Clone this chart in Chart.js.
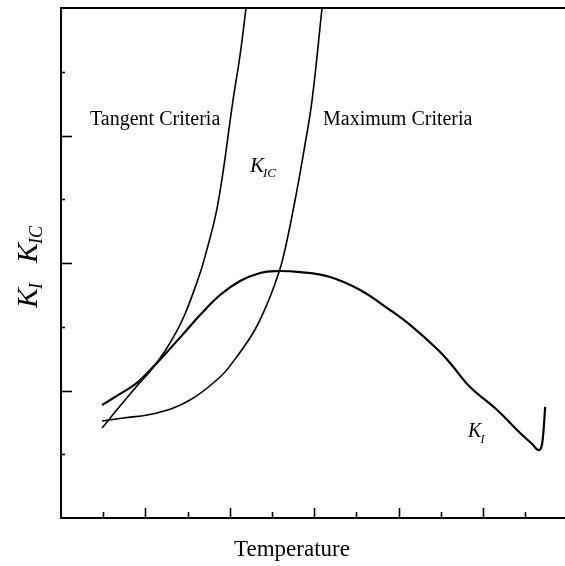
<!DOCTYPE html>
<html>
<head>
<meta charset="utf-8">
<script src="https://cdn.jsdelivr.net/npm/chart.js@4/dist/chart.umd.min.js"></script>
<style>
  html, body { margin: 0; padding: 0; background: #ffffff; }
  #c { display: block; }
</style>
</head>
<body>
<canvas id="c" width="565" height="566"></canvas>
<script>
// ---- Data ----
// K_I curve
const kiTemp   = [0.486, 0.699, 0.900, 1.078, 1.256, 1.469, 1.647, 1.884, 2.121, 2.358, 2.536, 2.832, 3.187, 3.543, 3.898, 4.135, 4.467, 4.609, 4.846, 5.166, 5.438, 5.581, 5.652, 5.687, 5.711, 5.735];
const kiValues = [0.886, 0.973, 1.059, 1.176, 1.302, 1.459, 1.592, 1.749, 1.859, 1.922, 1.937, 1.929, 1.890, 1.788, 1.631, 1.514, 1.318, 1.216, 1.027, 0.847, 0.667, 0.580, 0.533, 0.549, 0.651, 0.871];
// K_IC by tangent criteria
const tanTemp   = [0.486, 0.699, 0.900, 1.078, 1.232, 1.363, 1.469, 1.611, 1.706, 1.860, 2.038, 2.121, 2.192];
const tanValues = [0.706, 0.878, 1.035, 1.169, 1.310, 1.455, 1.600, 1.850, 2.050, 2.470, 3.278, 3.631, 4.000];
// K_IC by maximum criteria
const maxTemp   = [0.486, 0.735, 1.137, 1.528, 1.884, 2.038, 2.275, 2.417, 2.536, 2.630, 2.773, 2.879, 2.974, 3.092];
const maxValues = [0.761, 0.784, 0.824, 0.925, 1.106, 1.225, 1.451, 1.640, 1.840, 2.039, 2.494, 2.886, 3.278, 4.000];

// Axis tick values (no tick labels in the reference)
const xMajorTicks = [1, 2, 3, 4, 5];
const xMinorTicks = [0.5, 1.5, 2.5, 3.5, 4.5, 5.5];
const yMajorTicks = [1, 2, 3];
const yMinorTicks = [0.5, 1.5, 2.5, 3.5];

// Texts
const xTitle = "Temperature";
const noteTangent = "Tangent Criteria";
const noteMaximum = "Maximum Criteria";

function pts(xs, ys) { return xs.map((x, i) => ({ x: x, y: ys[i] })); }

const SERIF = '"Liberation Serif", "Times New Roman", serif';

const decorPlugin = {
  id: 'decor',
  afterDraw(chart) {
    const ctx = chart.ctx;
    const a = chart.chartArea;
    const xs = chart.scales.x, ys = chart.scales.y;
    ctx.save();
    ctx.strokeStyle = '#000';
    ctx.fillStyle = '#000';
    // frame: top, left, bottom
    ctx.lineWidth = 2;
    ctx.beginPath();
    ctx.moveTo(a.right, a.top); ctx.lineTo(a.left, a.top);
    ctx.lineTo(a.left, a.bottom); ctx.lineTo(a.right, a.bottom);
    ctx.stroke();
    // ticks (inward)
    ctx.lineWidth = 1.6;
    xMajorTicks.forEach(v => { const p = Math.round(xs.getPixelForValue(v)) + 0.5; ctx.beginPath(); ctx.moveTo(p, a.bottom); ctx.lineTo(p, a.bottom - 10); ctx.stroke(); });
    xMinorTicks.forEach(v => { const p = Math.round(xs.getPixelForValue(v)) + 0.5; ctx.beginPath(); ctx.moveTo(p, a.bottom); ctx.lineTo(p, a.bottom - 6); ctx.stroke(); });
    yMajorTicks.forEach(v => { const p = Math.round(ys.getPixelForValue(v)) + 0.5; ctx.beginPath(); ctx.moveTo(a.left, p); ctx.lineTo(a.left + 11, p); ctx.stroke(); });
    yMinorTicks.forEach(v => { const p = Math.round(ys.getPixelForValue(v)) + 0.5; ctx.beginPath(); ctx.moveTo(a.left, p); ctx.lineTo(a.left + 4, p); ctx.stroke(); });

    ctx.textBaseline = 'alphabetic';
    ctx.textAlign = 'left';
    // annotations
    ctx.font = '20px ' + SERIF;
    ctx.fillText(noteTangent, xs.getPixelForValue(0.344), ys.getPixelForValue(3.082));
    ctx.fillText(noteMaximum, xs.getPixelForValue(3.104), ys.getPixelForValue(3.082));

    function kLabel(x, y, sub, big, small, drop) {
      ctx.font = 'italic ' + big + 'px ' + SERIF;
      ctx.fillText('K', x, y);
      const w = ctx.measureText('K').width;
      ctx.font = 'italic ' + small + 'px ' + SERIF;
      ctx.fillText(sub, x + w - 1, y + drop);
      return w + ctx.measureText(sub).width - 1;
    }
    kLabel(xs.getPixelForValue(2.239), ys.getPixelForValue(2.714), 'IC', 21, 13, 5);
    kLabel(xs.getPixelForValue(4.822), ys.getPixelForValue(0.635), 'I', 20, 12, 6);

    // x title
    ctx.font = '23px ' + SERIF;
    ctx.textAlign = 'center';
    ctx.fillText(xTitle, 292, 556);

    // y title (rotated)
    ctx.save();
    ctx.translate(37, 308);
    ctx.rotate(-Math.PI / 2);
    ctx.textAlign = 'left';
    let off = kLabel(0, 0, 'I', 30, 18, 5);
    kLabel(off + 20, 0, 'IC', 30, 18, 5);
    ctx.restore();

    ctx.restore();
  }
};

const lineStyle = { borderColor: '#000', pointRadius: 0, fill: false, showLine: true, tension: 0.4 };

new Chart(document.getElementById('c'), {
  type: 'scatter',
  data: {
    datasets: [
      Object.assign({ label: 'K_I', data: pts(kiTemp, kiValues), borderWidth: 2.2 }, lineStyle),
      Object.assign({ label: 'K_IC tangent', data: pts(tanTemp, tanValues), borderWidth: 1.6 }, lineStyle),
      Object.assign({ label: 'K_IC maximum', data: pts(maxTemp, maxValues), borderWidth: 1.6 }, lineStyle)
    ]
  },
  options: {
    responsive: false,
    animation: false,
    layout: { padding: { left: 61, right: 0, top: 8, bottom: 48 } },
    plugins: { legend: { display: false }, tooltip: { enabled: false } },
    scales: {
      x: { type: 'linear', display: false, min: 0, max: 5.97 },
      y: { type: 'linear', display: false, min: 0, max: 4 }
    }
  },
  plugins: [decorPlugin]
});
</script>
</body>
</html>
